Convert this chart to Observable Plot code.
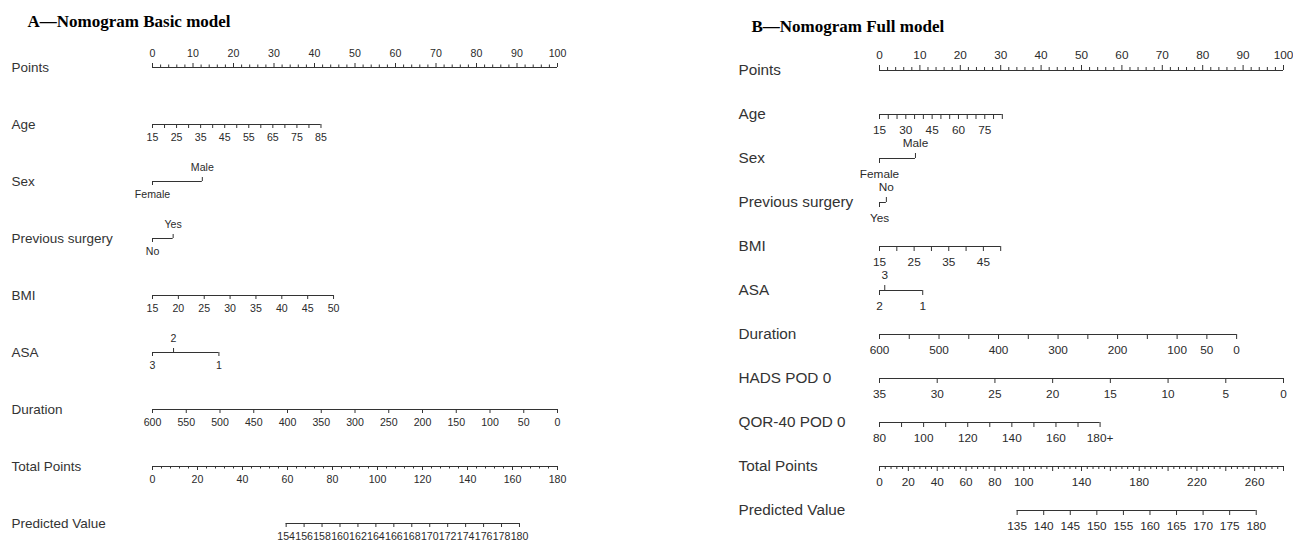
<!DOCTYPE html>
<html>
<head>
<meta charset="utf-8">
<script src="https://cdn.jsdelivr.net/npm/d3@7"></script>
<script src="https://cdn.jsdelivr.net/npm/@observablehq/plot@0.6"></script>
<style>
  html, body { margin: 0; padding: 0; background: #fff; }
  #wrap { display: flex; width: 1293px; height: 541px; overflow: hidden; }
  #wrap svg { display: block; }
</style>
</head>
<body>
<div id="wrap"></div>
<script>
// ================= Panel A: Basic model =================
const basicTitle = "A—Nomogram Basic model";
const basicRows = ["Points", "Age", "Sex", "Previous surgery", "BMI", "ASA", "Duration", "Total Points", "Predicted Value"];

const basicAgeTicks = [15, 20, 25, 30, 35, 40, 45, 50, 55, 60, 65, 70, 75, 80, 85];
const basicAgeLabels = [15, 25, 35, 45, 55, 65, 75, 85];
const basicAgePoints = [0, 41.6];            // points at 15 and at 85

const basicSexLevels = ["Female", "Male"];
const basicSexPoints = [0, 12.3];
const basicSexSide = ["below", "above"];

const basicSurgeryLevels = ["No", "Yes"];
const basicSurgeryPoints = [0, 5.1];
const basicSurgerySide = ["below", "above"];

const basicBmiTicks = [15, 20, 25, 30, 35, 40, 45, 50];
const basicBmiLabels = [15, 20, 25, 30, 35, 40, 45, 50];
const basicBmiPoints = [0, 44.7];

const basicAsaLevels = ["3", "2", "1"];
const basicAsaPoints = [0, 5.2, 16.4];
const basicAsaSide = ["below", "above", "below"];

const basicDurationTicks = [600, 550, 500, 450, 400, 350, 300, 250, 200, 150, 100, 50, 0];
const basicDurationLabels = [600, 550, 500, 450, 400, 350, 300, 250, 200, 150, 100, 50, 0];
const basicDurationPoints = [0, 100];

const basicTotalMax = 180;
const basicTotalStep = 4;
const basicTotalLabels = [0, 20, 40, 60, 80, 100, 120, 140, 160, 180];

const basicPredTicks = [154, 156, 158, 160, 162, 164, 166, 168, 170, 172, 174, 176, 178, 180];
const basicPredTotal = [59.4, 163.1];        // total points at 154 and at 180

// ================= Panel B: Full model =================
const fullTitle = "B—Nomogram Full model";
const fullRows = ["Points", "Age", "Sex", "Previous surgery", "BMI", "ASA", "Duration", "HADS POD 0", "QOR-40 POD 0", "Total Points", "Predicted Value"];

const fullAgeTicks = [15, 20, 25, 30, 35, 40, 45, 50, 55, 60, 65, 70, 75, 80, 85];
const fullAgeLabels = [15, 30, 45, 60, 75];
const fullAgePoints = [0, 30.4];

const fullSexLevels = ["Female", "Male"];
const fullSexPoints = [0, 8.9];
const fullSexSide = ["below", "above"];

const fullSurgeryLevels = ["Yes", "No"];
const fullSurgeryPoints = [0, 1.7];
const fullSurgerySide = ["below", "above"];

const fullBmiTicks = [15, 20, 25, 30, 35, 40, 45, 50];
const fullBmiLabels = [15, 25, 35, 45];
const fullBmiPoints = [0, 30.0];

const fullAsaLevels = ["2", "3", "1"];
const fullAsaPoints = [0, 1.3, 10.7];
const fullAsaSide = ["below", "above", "below"];

const fullDurationTicks = [600, 550, 500, 450, 400, 350, 300, 250, 200, 150, 100, 50, 0];
const fullDurationLabels = [600, 500, 400, 300, 200, 100, 50, 0];
const fullDurationPoints = [0, 88.4];

const fullHadsTicks = [35, 30, 25, 20, 15, 10, 5, 0];
const fullHadsLabels = [35, 30, 25, 20, 15, 10, 5, 0];
const fullHadsPoints = [0, 100];

const fullQorTicks = [80, 90, 100, 110, 120, 130, 140, 150, 160, 170, 180];
const fullQorLabels = [80, 100, 120, 140, 160, 180];
const fullQorLabelText = ["80", "100", "120", "140", "160", "180+"];
const fullQorPoints = [0, 54.6];

const fullTotalMax = 280;
const fullTotalStep = 4;
const fullTotalLabels = [0, 20, 40, 60, 80, 100, 140, 180, 220, 260];

const fullPredTicks = [135, 140, 145, 150, 155, 160, 165, 170, 175, 180];
const fullPredTotal = [95.4, 261.1];

// ================= helpers =================
function pointsAxis(row) {
  const ticks = d3.range(0, 101, 2);
  return {
    row,
    ticks: ticks.map(v => ({p: v, side: "up", major: v % 10 === 0})),
    labels: ticks.filter(v => v % 10 === 0).map(v => ({p: v, label: String(v), side: "up"}))
  };
}
function linearAxis(row, ticks, labels, pts, labelText) {
  const s = d3.scaleLinear().domain([ticks[0], ticks[ticks.length - 1]]).range(pts);
  return {
    row,
    ticks: ticks.map(v => ({p: s(v), side: "below", major: true})),
    labels: labels.map((v, i) => ({p: s(v), label: labelText ? labelText[i] : String(v), side: "below"}))
  };
}
function catAxis(row, levels, pts, sides) {
  return {
    row,
    ticks: levels.map((l, i) => ({p: pts[i], side: sides[i], major: true})),
    labels: levels.map((l, i) => ({p: pts[i], label: l, side: sides[i]}))
  };
}
function totalAxis(row, max, step, labels) {
  const s = d3.scaleLinear().domain([0, max]).range([0, 100]);
  const ticks = d3.range(0, max + 1, step);
  return {
    row,
    ticks: ticks.map(v => ({p: s(v), side: "below", major: v % 20 === 0})),
    labels: labels.map(v => ({p: s(v), label: String(v), side: "below"}))
  };
}
function predAxis(row, ticks, totalAt, max) {
  const toTotal = d3.scaleLinear().domain([ticks[0], ticks[ticks.length - 1]]).range(totalAt);
  const toPts = d3.scaleLinear().domain([0, max]).range([0, 100]);
  return {
    row,
    ticks: ticks.map(v => ({p: toPts(toTotal(v)), side: "below", major: true})),
    labels: ticks.map(v => ({p: toPts(toTotal(v)), label: String(v), side: "below"}))
  };
}

function panel(cfg) {
  const {title, rows, axes, width, xRange, yRange, rowDx, titleDx, titleDy,
         rowFont, tickFont, majorLen, minorLen, gapBelow, gapAbove, titleFont} = cfg;
  const lines = axes.map(a => ({row: a.row, p0: d3.min(a.ticks, t => t.p), p1: d3.max(a.ticks, t => t.p)}));
  const ticks = axes.flatMap(a => a.ticks.map(t => ({...t, row: a.row})));
  const labels = axes.flatMap(a => a.labels.map(t => ({...t, row: a.row})));
  const ink = "#2b2b2b";
  const isUp = t => t.side === "above" || t.side === "up";
  const tf = (f) => ticks.filter(f);
  return Plot.plot({
    width, height: 541,
    marginTop: 0, marginRight: 0, marginBottom: 0, marginLeft: 0,
    x: {domain: [0, 100], range: xRange, axis: null},
    y: {type: "point", domain: rows, range: yRange, padding: 0, axis: null},
    style: {fontFamily: "'Liberation Sans', Arial, sans-serif", background: "#fff", color: ink},
    marks: [
      Plot.ruleY(lines, {y: "row", x1: "p0", x2: "p1", stroke: "#333", strokeWidth: 1}),
      Plot.ruleX(tf(t => !isUp(t) && t.major), {x: "p", y1: "row", y2: "row", insetBottom: -majorLen, stroke: "#333"}),
      Plot.ruleX(tf(t => !isUp(t) && !t.major), {x: "p", y1: "row", y2: "row", insetBottom: -minorLen, stroke: "#333"}),
      Plot.ruleX(tf(t => isUp(t) && t.major), {x: "p", y1: "row", y2: "row", insetTop: -majorLen, stroke: "#333"}),
      Plot.ruleX(tf(t => isUp(t) && !t.major), {x: "p", y1: "row", y2: "row", insetTop: -minorLen, stroke: "#333"}),
      Plot.text(labels.filter(l => !isUp(l)), {x: "p", y: "row", text: "label", dy: gapBelow, fontSize: tickFont, fill: ink}),
      Plot.text(labels.filter(l => isUp(l)), {x: "p", y: "row", text: "label", dy: -gapAbove, fontSize: tickFont, fill: ink}),
      Plot.text(rows, {y: d => d, text: d => d, frameAnchor: "left", dx: rowDx, textAnchor: "start", fontSize: rowFont, fill: "#333"}),
      Plot.text([title], {text: d => d, frameAnchor: "top-left", dx: titleDx, dy: titleDy, textAnchor: "start", lineAnchor: "middle",
        fontFamily: "'Liberation Serif', 'Times New Roman', serif", fontWeight: "bold", fontSize: titleFont, fill: "#000"})
    ]
  });
}

// ================= build =================
const basicAxes = [
  pointsAxis("Points"),
  linearAxis("Age", basicAgeTicks, basicAgeLabels, basicAgePoints),
  catAxis("Sex", basicSexLevels, basicSexPoints, basicSexSide),
  catAxis("Previous surgery", basicSurgeryLevels, basicSurgeryPoints, basicSurgerySide),
  linearAxis("BMI", basicBmiTicks, basicBmiLabels, basicBmiPoints),
  catAxis("ASA", basicAsaLevels, basicAsaPoints, basicAsaSide),
  linearAxis("Duration", basicDurationTicks, basicDurationLabels, basicDurationPoints),
  totalAxis("Total Points", basicTotalMax, basicTotalStep, basicTotalLabels),
  predAxis("Predicted Value", basicPredTicks, basicPredTotal, basicTotalMax)
];
const fullAxes = [
  pointsAxis("Points"),
  linearAxis("Age", fullAgeTicks, fullAgeLabels, fullAgePoints),
  catAxis("Sex", fullSexLevels, fullSexPoints, fullSexSide),
  catAxis("Previous surgery", fullSurgeryLevels, fullSurgeryPoints, fullSurgerySide),
  linearAxis("BMI", fullBmiTicks, fullBmiLabels, fullBmiPoints),
  catAxis("ASA", fullAsaLevels, fullAsaPoints, fullAsaSide),
  linearAxis("Duration", fullDurationTicks, fullDurationLabels, fullDurationPoints),
  linearAxis("HADS POD 0", fullHadsTicks, fullHadsLabels, fullHadsPoints),
  linearAxis("QOR-40 POD 0", fullQorTicks, fullQorLabels, fullQorPoints, fullQorLabelText),
  totalAxis("Total Points", fullTotalMax, fullTotalStep, fullTotalLabels),
  predAxis("Predicted Value", fullPredTicks, fullPredTotal, fullTotalMax)
];

const wrap = document.getElementById("wrap");
wrap.appendChild(panel({
  title: basicTitle, rows: basicRows, axes: basicAxes,
  width: 646, xRange: [152, 557], yRange: [66, 523],
  rowDx: 11, titleDx: 27, titleDy: 21, titleFont: 17,
  rowFont: 13.5, tickFont: 10.6, majorLen: 4, minorLen: 2.5, gapBelow: 13, gapAbove: 14
}));
wrap.appendChild(panel({
  title: fullTitle, rows: fullRows, axes: fullAxes,
  width: 647, xRange: [233, 637], yRange: [68, 511],
  rowDx: 92, titleDx: 105, titleDy: 26, titleFont: 17,
  rowFont: 15.3, tickFont: 11.8, majorLen: 5, minorLen: 3, gapBelow: 15.5, gapAbove: 15.5
}));
</script>
</body>
</html>
